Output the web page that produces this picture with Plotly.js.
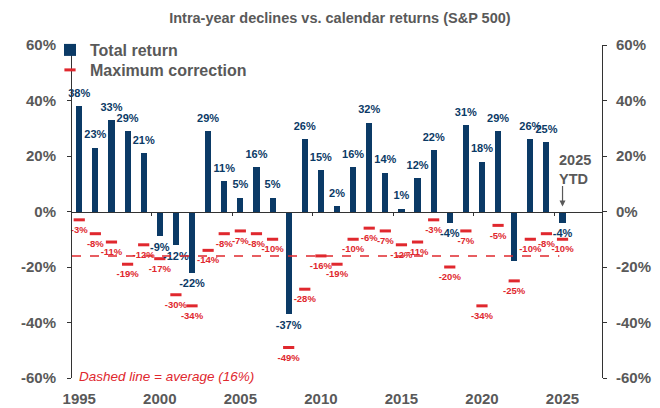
<!DOCTYPE html>
<html>
<head>
<meta charset="utf-8">
<script src="https://cdn.plot.ly/plotly-3.0.1.min.js"></script>
<style>html,body{margin:0;padding:0;background:#fff;}#chart{width:660px;height:408px;}</style>
</head>
<body>
<div id="chart"></div>
<script>
const years = [1995,1996,1997,1998,1999,2000,2001,2002,2003,2004,2005,2006,2007,2008,2009,2010,2011,2012,2013,2014,2015,2016,2017,2018,2019,2020,2021,2022,2023,2024,2025];
const totalReturn = [38,23,33,29,21,-9,-12,-22,29,11,5,16,5,-37,26,15,2,16,32,14,1,12,22,-4,31,18,29,-18,26,25,-4];
const returnLabels = ['38%','23%','33%','29%','21%','-9%','-12%','-22%','29%','11%','5%','16%','5%','-37%','26%','15%','2%','16%','32%','14%','1%','12%','22%','-4%','31%','18%','29%','','26%','25%','-4%'];
const maxCorrection = [-3,-8,-11,-19,-12,-17,-30,-34,-14,-8,-7,-8,-10,-49,-28,-16,-19,-10,-6,-7,-12,-11,-3,-20,-7,-34,-5,-25,-10,-8,-10];
const averageCorrection = -16;
const yTicks = [-60,-40,-20,0,20,40,60];
const xTicks = [1995,2000,2005,2010,2015,2020,2025];
const sepTicks = [1999.5,2004.5,2009.5,2014.5,2019.5,2024.5];

const NAVY = '#0b3a66', RED = '#e0282e', GREY = '#595959';
const FONT = 'Liberation Sans, Arial, sans-serif';
const xRange = [1994.55, 2027.45];

const traces = [
  {type:'bar', name:'Total return', x:years, y:totalReturn, width:0.38, legend:'legend',
   marker:{color:NAVY}, hoverinfo:'skip'},
  {type:'scatter', mode:'markers+text', name:'Maximum correction', x:years, y:maxCorrection, legend:'legend2',
   marker:{symbol:'line-ew', size:8, line:{color:RED, width:3}, color:RED},
   text:maxCorrection.map(v => v + '%'), textposition:'bottom center',
   textfont:{family:FONT, size:9.5, color:RED, weight:'bold'}, cliponaxis:false, hoverinfo:'skip'},
  {type:'scatter', mode:'markers+text', showlegend:false, x:years, y:totalReturn,
   marker:{size:9, opacity:0},
   text:returnLabels, textposition:totalReturn.map(v => v >= 0 ? 'top center' : 'bottom center'),
   textfont:{family:FONT, size:11, color:NAVY, weight:'bold'}, cliponaxis:false, hoverinfo:'skip'},
  {type:'scatter', mode:'markers', showlegend:false, x:[xRange[0]], y:[0], xaxis:'x2', yaxis:'y2',
   marker:{opacity:0}, hoverinfo:'skip'}
];

const legendFont = {family:FONT, size:16, color:GREY, weight:'bold'};
const layout = {
  width:660, height:408,
  margin:{l:72, r:58, t:45, b:30},
  paper_bgcolor:'#fff', plot_bgcolor:'#fff',
  font:{family:FONT, color:GREY},
  title:{text:'Intra-year declines vs. calendar returns (S&P 500)', x:0.515, xanchor:'center', y:0.955, yanchor:'middle',
         font:{family:FONT, size:14.5, color:GREY, weight:'bold'}},
  showlegend:true,
  legend:{x:-0.0415, y:1.036, xanchor:'left', yanchor:'top', bgcolor:'rgba(0,0,0,0)', font:legendFont, itemwidth:30},
  legend2:{x:-0.0415, y:0.976, xanchor:'left', yanchor:'top', bgcolor:'rgba(0,0,0,0)', font:legendFont, itemwidth:30},
  bargap:0,
  xaxis:{range:xRange, tickvals:xTicks, ticktext:xTicks.map(String), showgrid:false, zeroline:false,
         showline:false, ticks:'outside', ticklen:7, tickcolor:'rgba(0,0,0,0)',
         tickfont:{family:FONT, size:15, color:GREY, weight:'bold'}, fixedrange:true},
  xaxis2:{range:xRange, overlaying:'x', anchor:'free', position:0.5, showgrid:false, zeroline:false,
          showline:true, linecolor:'#333', linewidth:1, tickvals:sepTicks, ticks:'outside', ticklen:3,
          tickcolor:'#333', showticklabels:false},
  yaxis:{range:[-60,60], tickvals:yTicks, ticktext:yTicks.map(v => v + '%'), showgrid:false, zeroline:false,
         showline:true, linecolor:'#333', linewidth:1, ticks:'outside', ticklen:4, tickcolor:'#333', ticklabelstandoff:8,
         tickfont:{family:FONT, size:15, color:GREY, weight:'bold'}},
  yaxis2:{range:[-60,60], overlaying:'y', side:'right', anchor:'x', tickvals:yTicks, ticktext:yTicks.map(v => v + '%'),
          showgrid:false, zeroline:false, showline:true, linecolor:'#333', linewidth:1, ticks:'outside', ticklen:4,
          ticklabelstandoff:6, tickcolor:'#333', tickfont:{family:FONT, size:15, color:GREY, weight:'bold'}},
  shapes:[
    {type:'line', xref:'x', yref:'y', x0:xRange[0], x1:2024.8, y0:averageCorrection, y1:averageCorrection,
     line:{color:RED, width:1.5, dash:'dash'}}
  ],
  annotations:[
    {xref:'paper', yref:'y', x:0.01, y:-59.3, xanchor:'left', yanchor:'middle', showarrow:false,
     text:'<i>Dashed line = average (16%)</i>', font:{family:FONT, size:13.5, color:RED}},
    {xref:'x', yref:'y', x:2025, y:0, ax:0, ay:-27, text:'', showarrow:true, arrowhead:2, arrowsize:1,
     arrowwidth:1.2, arrowcolor:GREY, standoff:5},
    {xref:'x', yref:'y', x:2025, y:15, xanchor:'left', xshift:-6, yanchor:'middle', showarrow:false, align:'left',
     text:'2025<br>YTD', font:{family:FONT, size:14.5, color:GREY, weight:'bold'}}
  ]
};

Plotly.newPlot('chart', traces, layout, {staticPlot:true, displayModeBar:false});
</script>
</body>
</html>
